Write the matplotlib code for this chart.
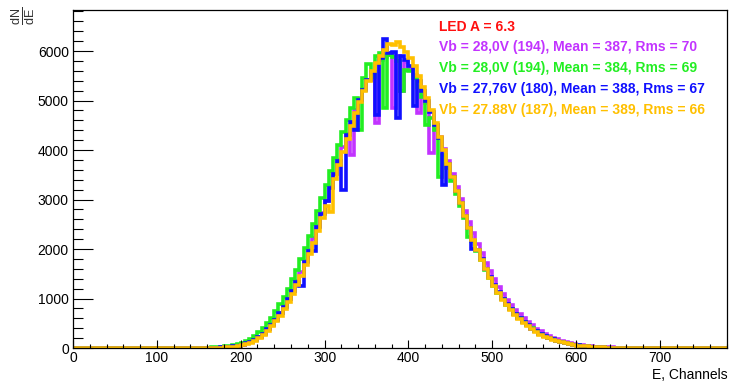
import numpy as np
import matplotlib
matplotlib.use("Agg")
import matplotlib.pyplot as plt
from matplotlib.ticker import MultipleLocator

plt.rcParams['font.family'] = ['Liberation Sans', 'DejaVu Sans']
plt.rcParams['mathtext.fontset'] = 'custom'
plt.rcParams['mathtext.rm'] = 'Liberation Sans'

# bins of 5 channels from 150 to 670 (empty outside)
bin_lo, bin_hi, bin_w = 150, 670, 5

magenta = [0, 1, 4, 6, 9, 13, 18, 27, 37, 52,
           70, 98, 132, 176, 230, 303, 386, 480, 585, 708,
           842, 995, 1160, 1345, 1540, 1755, 1980, 2215, 2460, 2720,
           2980, 3250, 3520, 3790, 4060, 4320, 3900, 4810, 5030, 5230,
           5420, 5580, 4550, 5810, 5890, 5930, 4850, 5900, 5200, 5770,
           5660, 5510, 4750, 5160, 4960, 3950, 4510, 4270, 4020, 3770,
           3510, 3260, 3010, 2770, 2540, 2320, 2110, 1910, 1720, 1550,
           1390, 1240, 1100, 980, 875, 775, 685, 600, 525, 455,
           390, 335, 285, 243, 207, 175, 147, 122, 101, 84,
           69, 56, 45, 36, 29, 23, 18, 14, 11, 8,
           6, 4, 3, 2]

green = [2, 5, 8, 11, 16, 22, 31, 42, 58, 78,
         108, 145, 190, 248, 322, 410, 505, 612, 740, 880,
         1035, 1200, 1390, 1585, 1800, 2030, 2260, 2510, 2770, 3030,
         3290, 3570, 3830, 4100, 4360, 4610, 4850, 5060, 4400, 5450,
         5730, 5480, 5900, 5960, 4850, 5920, 5880, 5790, 5200, 5620,
         5600, 5450, 5280, 5080, 4500, 4640, 4400, 3450, 3900, 3640,
         3380, 3120, 2870, 2620, 2250, 2170, 1960, 1770, 1580, 1415,
         1260, 1115, 985, 875, 780, 690, 605, 528, 460, 396,
         338, 288, 244, 207, 175, 146, 122, 100, 82, 68,
         55, 45, 36, 28, 22, 17, 13, 10, 8, 6,
         4, 3, 2, 1]

blue = [0, 1, 3, 5, 8, 12, 17, 25, 34, 48,
        65, 92, 125, 168, 222, 293, 376, 470, 575, 698,
        832, 985, 1150, 1335, 1250, 1745, 1970, 1950, 2450, 2710,
        2970, 3240, 3510, 3780, 3200, 4310, 4560, 4400, 5020, 5220,
        5410, 5580, 4700, 5850, 6240, 5960, 5980, 4650, 5900, 5820,
        5700, 4900, 5400, 5200, 5000, 4760, 4510, 4250, 3300, 3720,
        3450, 3180, 2920, 2670, 2430, 2000, 1990, 1790, 1600, 1430,
        1270, 1125, 990, 880, 780, 688, 603, 525, 457, 393,
        335, 286, 242, 205, 174, 145, 121, 99, 82, 67,
        54, 44, 35, 28, 22, 17, 13, 10, 7, 5,
        4, 3, 2, 1]

yellow = [0, 0, 2, 4, 6, 9, 13, 19, 27, 38,
          52, 75, 105, 145, 195, 260, 340, 435, 540, 655,
          785, 935, 1095, 1275, 1465, 1675, 1895, 2125, 2365, 2620,
          2875, 2750, 3410, 3690, 3960, 4230, 4490, 4740, 4970, 5190,
          5400, 5590, 5760, 5900, 6020, 6150, 6120, 6180, 6080, 5980,
          5860, 5700, 5500, 5280, 5050, 4800, 4540, 4270, 4000, 3720,
          3450, 3180, 2920, 2660, 2420, 2190, 1980, 1780, 1590, 1420,
          1260, 1110, 975, 860, 760, 665, 580, 505, 437, 375,
          320, 272, 230, 194, 163, 136, 113, 93, 76, 62,
          50, 40, 32, 25, 20, 15, 12, 9, 7, 5,
          3, 2, 1, 1]

labels = ["LED A = 6.3",
          "Vb = 28,0V (194), Mean = 387, Rms = 70",
          "Vb = 28,0V (194), Mean = 384, Rms = 69",
          "Vb = 27,76V (180), Mean = 388, Rms = 67",
          "Vb = 27.88V (187), Mean = 389, Rms = 66"]

x_max = 780
y_max = 6830

# edges including empty bins on both sides so the line runs along zero
edges = np.concatenate([[0], np.arange(bin_lo, bin_hi + bin_w, bin_w), [x_max]])

fig = plt.figure(figsize=(7.35, 3.82), dpi=100)
ax = fig.add_axes([73 / 735, 34 / 382, 654 / 735, 338 / 382])

series = [(magenta, '#c233ff'), (green, '#22ee22'), (blue, '#1010ff'), (yellow, '#ffc000')]
for vals, col in series:
    v = np.concatenate([[0], vals, [0]])
    ax.stairs(v, edges, color=col, linewidth=2.6)

ax.set_xlim(0, x_max)
ax.set_ylim(0, y_max)

ax.xaxis.set_major_locator(MultipleLocator(100))
ax.xaxis.set_minor_locator(MultipleLocator(20))
ax.yaxis.set_major_locator(MultipleLocator(1000))
ax.yaxis.set_minor_locator(MultipleLocator(200))
ax.tick_params(axis='x', which='major', direction='in', length=6, width=0.8, labelsize=10, pad=2)
ax.tick_params(axis='x', which='minor', direction='in', length=3, width=0.8)
ax.tick_params(axis='y', which='major', direction='in', length=14.5, width=0.8, labelsize=10, pad=3)
ax.tick_params(axis='y', which='minor', direction='in', length=7, width=0.8)
for s in ax.spines.values():
    s.set_linewidth(0.9)

fig.text(728 / 735, 1 - 375 / 382, "E, Channels", ha='right', va='center', fontsize=10)
fig.text(23 / 735, 1 - 16 / 382, r"$\frac{\mathrm{dN}}{\mathrm{dE}}$", rotation=90,
         ha='center', va='center', fontsize=13, color='#333333')

text_cols = ['#ff1010', '#c233ff', '#22ee22', '#1010ff', '#ffc000']
text_y = [27, 47, 68, 89, 110]
for lab, col, yy in zip(labels, text_cols, text_y):
    fig.text(439 / 735, 1 - yy / 382, lab, color=col, fontsize=10, fontweight='bold', va='center', ha='left')

fig.savefig("out.png", dpi=100)
